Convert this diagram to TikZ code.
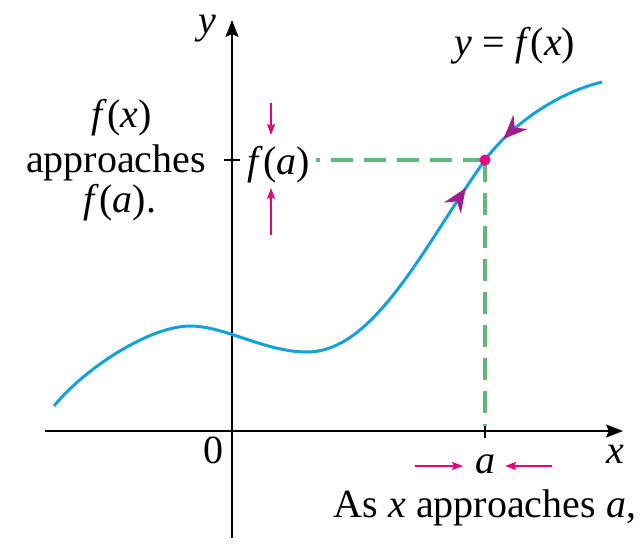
\documentclass[tikz,border=0pt]{standalone}
\usepackage{fontspec}
\setmainfont{Liberation Serif}
\usepackage{tikz}
\usepackage{xcolor}
\usetikzlibrary{arrows.meta, decorations.markings}

\definecolor{curveblue}{RGB}{20,160,220}
\definecolor{guidegreen}{RGB}{95,185,125}
\definecolor{hotpink}{RGB}{230,0,125}
\definecolor{tippurple}{RGB}{160,30,140}

\newcommand{\vr}[1]{\textit{#1}}

\begin{document}
\begin{tikzpicture}[x=1pt,y=-1pt,
  axis/.style={line width=1.6pt,-{Stealth[length=17pt,width=13pt,inset=3pt]}},
  graph/.style={curveblue,line width=3pt},
  guide/.style={guidegreen,line width=3.5pt,dash pattern=on 22pt off 11pt},
  nudge/.style={hotpink,line width=1.6pt,-{Stealth[length=11pt,width=8pt,inset=2pt]}},
  onpath/.style={tippurple,fill=tippurple},
  lbl/.style={font=\fontsize{40}{43}\selectfont,inner sep=0pt,anchor=base}]

\useasboundingbox (0,0) rectangle (640,547);

% Draw the axes
\coordinate (xl) at (45,431);
\coordinate (xr) at (623,431);
\coordinate (yb) at (232,538);
\coordinate (yt) at (232,20);
\draw[axis] (xl) -- (xr);
\draw[axis] (yb) -- (yt);

% Ticks at f(a) and a
\coordinate (fat1) at (224,160);
\coordinate (fat2) at (240,160);
\coordinate (at1) at (485,426);
\coordinate (at2) at (485,438);
\draw[line width=1.6pt] (fat1) -- (fat2);
\draw[line width=1.6pt] (at1) -- (at2);

% Labels
\node[lbl] (ylbl) at (207,33) {\vr{y}};
\node[lbl] (xlbl) at (615,463) {\vr{x}};
\node[lbl] (zero) at (213,463) {0};
\node[lbl] (albl) at (485,473) {\vr{a}};
\node[lbl] (fa) at (279,174) {\vr{f}(\vr{a})};
\node[lbl] (eqn) at (515,55) {\vr{y} = \vr{f}(\vr{x})};
\node[lbl] (fxl) at (122,127) {\vr{f}(\vr{x})};
\node[lbl] (appr) at (116,172) {approaches};
\node[lbl] (fap) at (120,212) {\vr{f}(\vr{a}).};
\node[lbl] (asx) at (485,517) {As \vr{x} approaches \vr{a},};

% Dashed guides to the point (a, f(a))
\coordinate (pa) at (485,160);
\coordinate (fae) at (316,160);
\draw[guide] (pa) -- (fae);
\draw[guide] (pa) -- (at1);

% The graph of f, in two halves meeting at (a, f(a))
\coordinate (c0) at (54,406);
\coordinate (cmax) at (190,326);
\coordinate (cmin) at (307,352);
\coordinate (cend) at (602,82);
\draw[graph,postaction={decorate},decoration={markings,
    mark=at position -34pt with {\arrow[onpath]{Stealth[length=24pt,width=20pt,inset=8pt]}}}]
  (c0) .. controls (85,368) and (150,326) .. (cmax)
       .. controls (225,326) and (265,352) .. (cmin)
       .. controls (375,352) and (425,244) .. (pa);
\draw[graph,postaction={decorate},decoration={markings,
    mark=at position 28pt with {\arrowreversed[onpath]{Stealth[length=24pt,width=20pt,inset=8pt]}}}]
  (pa) .. controls (512,124) and (557,93) .. (cend);

\node[circle,fill=hotpink,inner sep=0pt,minimum size=11pt] (dot) at (pa) {};

% Small arrows squeezing towards a and f(a)
\coordinate (l1) at (415,466);
\coordinate (l2) at (463,466);
\coordinate (r1) at (552,466);
\coordinate (r2) at (505,466);
\coordinate (u1) at (271,103);
\coordinate (u2) at (271,135);
\coordinate (d1) at (271,235);
\coordinate (d2) at (271,188);
\draw[nudge] (l1) -- (l2);
\draw[nudge] (r1) -- (r2);
\draw[nudge] (u1) -- (u2);
\draw[nudge] (d1) -- (d2);

\end{tikzpicture}
\end{document}
